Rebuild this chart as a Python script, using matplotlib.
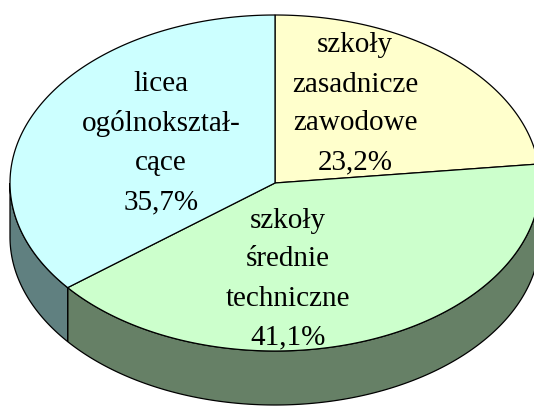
import numpy as np
import matplotlib
matplotlib.use("Agg")
import matplotlib.pyplot as plt
from matplotlib.patches import Polygon

# Data
categories = ["szkoły\nzasadnicze\nzawodowe", "szkoły\nśrednie\ntechniczne", "licea\nogólnokształ-\ncące"]
values = [23.2, 41.1, 35.7]
pct_labels = ["23,2%", "41,1%", "35,7%"]
top_colors = ["#FFFFCC", "#CCFFCC", "#CCFFFF"]
side_colors = ["#808066", "#668066", "#608080"]

# Layout (pixels)
W, H = 534, 407
cx, cy = 275, 183
rx, ry = 265, 168
depth = 54
label_pos = [(355, 104), (288, 279), (161, 143)]

fig = plt.figure(figsize=(W / 100, H / 100), dpi=100)
ax = fig.add_axes([0, 0, 1, 1])
ax.set_xlim(0, W)
ax.set_ylim(H, 0)
ax.axis("off")

def pt(t, dz=0.0):
    return (cx + rx * np.cos(np.radians(t)), cy - ry * np.sin(np.radians(t)) + dz)

total = sum(values)
angles = []
start = 90.0
for v in values:
    end = start - 360.0 * v / total
    angles.append((start, end))
    start = end

lw = 0.9
# sides (front half)
for (a0, a1), sc in zip(angles, side_colors):
    lo, hi = min(a0, a1), max(a0, a1)
    for shift in (0, -360, 360):
        l, h = lo + shift, hi + shift
        s, e = max(l, 180), min(h, 360)
        if e > s:
            ts = np.linspace(s, e, 200)
            top = [pt(t) for t in ts]
            bot = [pt(t, depth) for t in ts[::-1]]
            ax.add_patch(Polygon(top + bot, closed=True, facecolor=sc,
                                 edgecolor="black", linewidth=lw, zorder=1))

# tops
for (a0, a1), tc in zip(angles, top_colors):
    ts = np.linspace(a0, a1, 300)
    poly = [(cx, cy)] + [pt(t) for t in ts]
    ax.add_patch(Polygon(poly, closed=True, facecolor=tc,
                         edgecolor="black", linewidth=lw, zorder=2))

# labels
for cat, pl, (x, y) in zip(categories, pct_labels, label_pos):
    ax.text(x, y, cat + "\n" + pl, ha="center", va="center",
            fontsize=21, family="Liberation Serif", linespacing=1.65,
            color="black", zorder=3)

fig.savefig("out.png", dpi=100)
